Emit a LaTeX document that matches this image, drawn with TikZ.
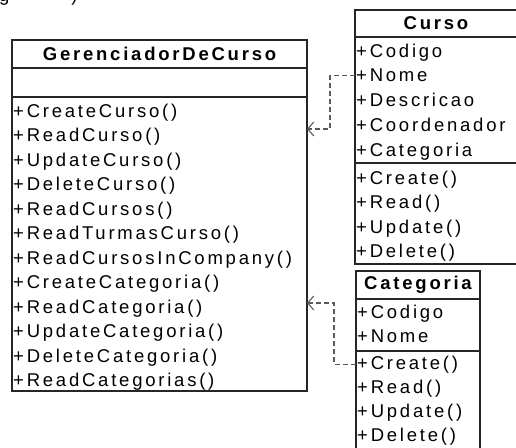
\documentclass[tikz,border=0pt]{standalone}
\usepackage{fontspec}
\setmainfont{Liberation Sans}[LetterSpace=15]
\usetikzlibrary{arrows.meta,positioning}

\tikzset{
  part/.style={draw=black!85, line width=1.2pt, inner sep=0pt, outer sep=0pt,
    anchor=north west, font=\fontsize{18.5}{20}\selectfont\bfseries},
  row/.style={anchor=base west, inner sep=0pt, font=\fontsize{18.5}{20}\selectfont},
  dep/.style={draw=black!65, line width=1.1pt, dash pattern=on 5pt off 3pt,
    -{Straight Barb[length=6pt,width=14pt]}}
}

\begin{document}
\begin{tikzpicture}[x=1pt,y=-1pt]
  \useasboundingbox (0,0) rectangle (516,447);
  \node[row] (frag) at (-1,1.5) {g\hspace{62pt})};

  \node[part, minimum width=295pt, minimum height=28pt] (gtitle) at (12,40) {GerenciadorDeCurso};
  \node[part, minimum width=295pt, minimum height=29pt, below=0pt of gtitle] (gattr) {};
  \node[part, minimum width=295pt, minimum height=294pt, below=0pt of gattr] (gops) {};
  \foreach \m [count=\i] in {CreateCurso(),ReadCurso(),UpdateCurso(),DeleteCurso(),
      ReadCursos(),ReadTurmasCurso(),ReadCursosInCompany(),CreateCategoria(),
      ReadCategoria(),UpdateCategoria(),DeleteCategoria(),ReadCategorias()}
    \node[row] (g\i) at (13,{117+24.5*(\i-1)}) {+\m};

  \node[part, minimum width=162pt, minimum height=27pt] (ctitle) at (355,10) {Curso};
  \node[part, minimum width=162pt, minimum height=126pt, below=0pt of ctitle] (cattr) {};
  \node[part, minimum width=162pt, minimum height=101pt, below=0pt of cattr] (cops) {};
  \foreach \m [count=\i] in {Codigo,Nome,Descricao,Coordenador,Categoria}
    \node[row] (ca\i) at (356,{57+24.8*(\i-1)}) {+\m};
  \foreach \m [count=\i] in {Create(),Read(),Update(),Delete()}
    \node[row] (co\i) at (356,{184+24.5*(\i-1)}) {+\m};

  \node[part, minimum width=124pt, minimum height=28pt] (ktitle) at (356,271) {Categoria};
  \node[part, minimum width=124pt, minimum height=52pt, below=0pt of ktitle] (kattr) {};
  \node[part, minimum width=124pt, minimum height=100pt, below=0pt of kattr] (kops) {};
  \foreach \m [count=\i] in {Codigo,Nome}
    \node[row] (ka\i) at (357,{318+24.5*(\i-1)}) {+\m};
  \foreach \m [count=\i] in {Create(),Read(),Update(),Delete()}
    \node[row] (ko\i) at (357,{369+24*(\i-1)}) {+\m};

  \coordinate (gin1) at (0,129);
  \coordinate (gin2) at (0,303);
  \draw[dep] (cattr.west |- ca2.west) -- ++(-25,0) |- (gops.east |- gin1);
  \draw[dep] (kops.west |- ko1.west) -- ++(-22,0) |- (gops.east |- gin2);
\end{tikzpicture}
\end{document}
